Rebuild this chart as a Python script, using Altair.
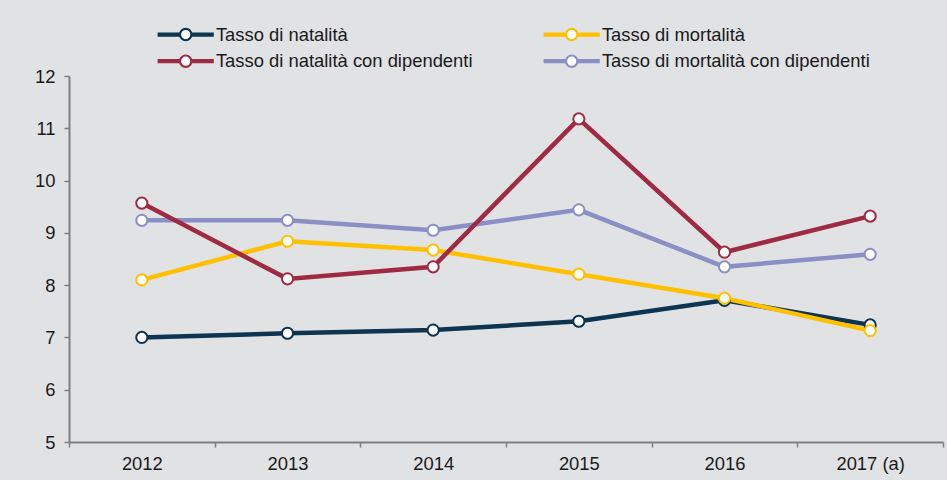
import altair as alt
import pandas as pd

years = ["2012", "2013", "2014", "2015", "2016", "2017 (a)"]
# legend order (column-major: column 1 = natalità, column 2 = mortalità)
series_names = [
    "Tasso di natalità",
    "Tasso di natalità con dipendenti",
    "Tasso di mortalità",
    "Tasso di mortalità con dipendenti",
]
natalita = [7.00, 7.08, 7.14, 7.31, 7.71, 7.24]
mortalita = [8.10, 8.84, 8.67, 8.21, 7.75, 7.13]
natalita_dip = [9.57, 8.12, 8.35, 11.18, 8.63, 9.32]
mortalita_dip = [9.24, 9.24, 9.05, 9.44, 8.35, 8.59]
colors = ["#0d3450", "#9e2a43", "#ffc000", "#8a8fc5"]
y_ticks = [5, 6, 7, 8, 9, 10, 11, 12]

# drawing order: navy, yellow, lavender, red (red on top)
values_by_series = {
    "Tasso di natalità": natalita,
    "Tasso di mortalità": mortalita,
    "Tasso di mortalità con dipendenti": mortalita_dip,
    "Tasso di natalità con dipendenti": natalita_dip,
}
rows = []
for name, vals in values_by_series.items():
    for yr, v in zip(years, vals):
        rows.append({"anno": yr, "serie": name, "valore": v})
df = pd.DataFrame(rows)

FONT = "Liberation Sans"
FS = 18.4
SYMBOL = (
    "M-4.5,-0.165H-0.95V0.165H-4.5Z"
    "M0.95,-0.165H4.5V0.165H0.95Z"
    "M-0.95,0A0.95,0.95 0 1,1 0.95,0A0.95,0.95 0 1,1 -0.95,0Z"
)

chart = (
    alt.Chart(df)
    .mark_line(
        strokeWidth=4.5,
        point=alt.OverlayMarkDef(filled=False, fill="white", size=125, strokeWidth=2, opacity=1),
    )
    .encode(
        x=alt.X(
            "anno:N",
            sort=years,
            scale=alt.Scale(paddingInner=0, paddingOuter=0),
            axis=alt.Axis(
                title=None,
                labelAngle=0,
                tickBand="extent",
                domainColor="#7f7f7f",
                domainWidth=2,
                tickColor="#7f7f7f",
                tickWidth=1.5,
                tickSize=5,
                labelFont=FONT,
                labelFontSize=FS,
                labelColor="#1a1a1a",
                labelPadding=7,
            ),
        ),
        y=alt.Y(
            "valore:Q",
            scale=alt.Scale(domain=[5, 12], nice=False, zero=False),
            axis=alt.Axis(
                title=None,
                values=y_ticks,
                grid=False,
                domainColor="#7f7f7f",
                domainWidth=2,
                tickColor="#7f7f7f",
                tickWidth=1.5,
                tickSize=5,
                labelFont=FONT,
                labelFontSize=FS,
                labelColor="#1a1a1a",
                labelPadding=9,
            ),
        ),
        color=alt.Color(
            "serie:N",
            scale=alt.Scale(domain=series_names, range=colors),
            legend=alt.Legend(
                title=None,
                orient="none",
                legendX=86.5,
                legendY=-51,
                direction="vertical",
                columns=2,
                columnPadding=66,
                rowPadding=6,
                symbolType=SYMBOL,
                symbolSize=144,
                symbolStrokeWidth=2.2,
                symbolFillColor="white",
                symbolOffset=21,
                labelOffset=21,
                labelFont=FONT,
                labelFontSize=FS,
                labelColor="#1a1a1a",
                labelLimit=0,
                padding=0,
            ),
        ),
    )
    .properties(
        width=874,
        height=366,
        autosize=alt.AutoSizeParams(type="none"),
        padding={"left": 69, "top": 76, "right": 4, "bottom": 38},
        background="#e1e2e4",
    )
    .configure_view(stroke=None)
)

chart.save("out.html", embed_options={"renderer": "svg", "actions": False})
